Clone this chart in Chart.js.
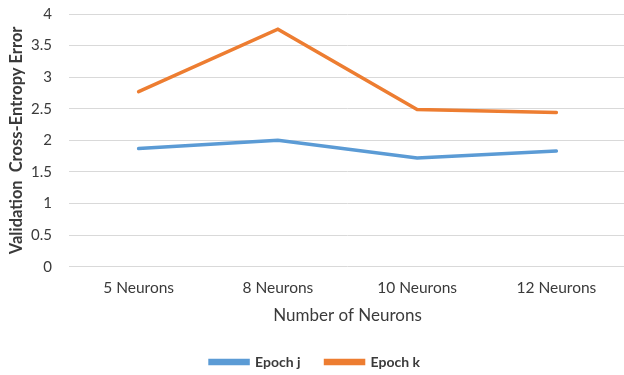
<!DOCTYPE html>
<html>
<head>
<meta charset="utf-8">
<script src="https://cdn.jsdelivr.net/npm/chart.js@4"></script>
<style>
  html, body { margin: 0; padding: 0; background: #fff; }
  #frame { position: relative; width: 624px; height: 375px; overflow: hidden; }
  #wrap { position: absolute; left: -10px; top: -12px; width: 640px; height: 391px; }
</style>
</head>
<body>
<div id="frame"><div id="wrap"><canvas id="c" width="640" height="391"></canvas></div></div>
<script>
const categories = ['5 Neurons', '8 Neurons', '10 Neurons', '12 Neurons'];
const epochJ = [1.87, 2.0, 1.72, 1.83];
const epochK = [2.77, 3.76, 2.49, 2.44];
const yTicks = [0, 0.5, 1, 1.5, 2, 2.5, 3, 3.5, 4];

const FONT = 'Lato, "Liberation Sans", sans-serif';
const BLUE = '#5B9BD5';
const ORANGE = '#ED7D31';

new Chart(document.getElementById('c'), {
  type: 'line',
  data: {
    labels: categories,
    datasets: [
      { label: 'Epoch j', data: epochJ, borderColor: BLUE, backgroundColor: BLUE,
        borderWidth: 3.5, pointRadius: 0, tension: 0, borderCapStyle: 'round' },
      { label: 'Epoch k', data: epochK, borderColor: ORANGE, backgroundColor: ORANGE,
        borderWidth: 3.5, pointRadius: 0, tension: 0, borderCapStyle: 'round' }
    ]
  },
  options: {
    responsive: false,
    animation: false,
    layout: { padding: { top: 1, right: 4, left: 14, bottom: 0 } },
    plugins: {
      tooltip: { enabled: false },
      legend: {
        position: 'bottom',
        labels: {
          boxWidth: 38, boxHeight: 3, padding: 25,
          color: '#3a3a3a',
          font: { family: FONT, size: 14, weight: 'bold' }
        }
      }
    },
    scales: {
      x: {
        type: 'category',
        offset: true,
        grid: { display: false, drawTicks: false },
        border: { display: false },
        ticks: { padding: 12, color: '#3a3a3a', font: { family: FONT, size: 15.5 } },
        title: { display: true, text: 'Number of Neurons', color: '#3a3a3a',
                 font: { family: FONT, size: 17 }, padding: { top: 4, bottom: 4 } },
        afterFit(axis) { axis.height = 63.3; }
      },
      y: {
        min: 0, max: 4,
        afterBuildTicks(axis) { axis.ticks = yTicks.map(v => ({ value: v })); },
        grid: { color: '#d9d9d9', lineWidth: 1, drawTicks: false },
        border: { display: false },
        ticks: { padding: 17, color: '#3a3a3a', font: { family: FONT, size: 15 },
                 callback: v => String(v) },
        title: { display: true, text: 'Validation  Cross-Entropy Error', color: '#3a3a3a',
                 font: { family: FONT, size: 16.5, weight: 'bold' }, padding: { top: 3, bottom: 0 } },
        afterFit(axis) { axis.width = 65; }
      }
    }
  }
});
</script>
</body>
</html>
